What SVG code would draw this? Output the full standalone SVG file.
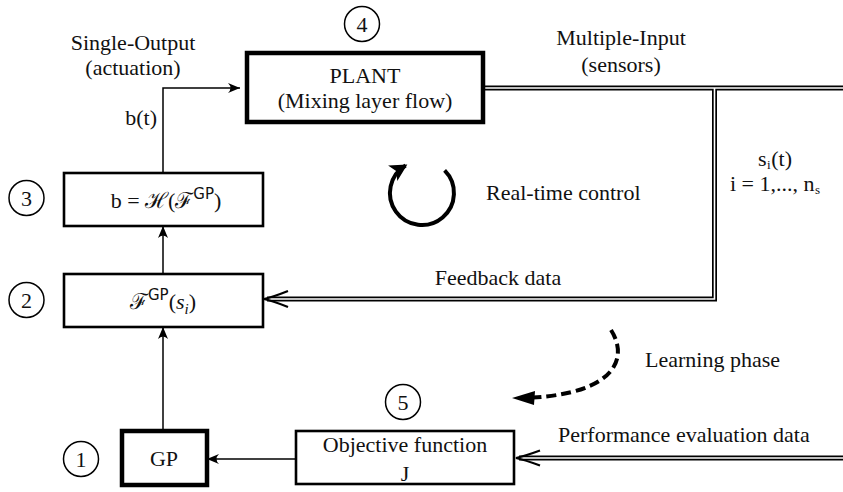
<svg xmlns="http://www.w3.org/2000/svg" width="843" height="492" viewBox="0 0 843 492">
<style>
text{font-family:"Liberation Serif","DejaVu Serif",serif;font-size:22px;fill:#111}
.m{text-anchor:middle}
.box{fill:#fff;stroke:#000;stroke-width:2.6}
.thick{fill:#fff;stroke:#000;stroke-width:4.5}
.num{fill:none;stroke:#000;stroke-width:1.5}
.ln{fill:none;stroke:#000;stroke-width:1.5}
.dout{fill:none;stroke:#000;stroke-width:5}
.din{fill:none;stroke:#fff;stroke-width:1.6}
.dhead{fill:none;stroke:#000;stroke-width:2.2;stroke-linejoin:miter}
</style>
<defs>
<marker id="ah" markerUnits="userSpaceOnUse" markerWidth="16" markerHeight="12" refX="0" refY="0" viewBox="-13 -6 14 12" orient="auto">
<path d="M0,0 L-12,-5 Q-7,0 -12,5 Z" fill="#000"/>
</marker>
<marker id="ahc" markerUnits="userSpaceOnUse" markerWidth="22" markerHeight="22" refX="0" refY="0" viewBox="-17 -11 20 22" orient="auto">
<path d="M2,0 L-15,-9 L-11,0 L-15,9 Z" fill="#000"/>
</marker>
</defs>

<g id="connectors">
<path class="ln" d="M163,431 V327" marker-end="url(#ah)"/>
<path class="ln" d="M163,274 V226" marker-end="url(#ah)"/>
<path class="ln" d="M163,173 V88 H240" marker-end="url(#ah)"/>
<path class="ln" d="M296,459 H207" marker-end="url(#ah)"/>
<path class="dout" d="M483,88 H843"/>
<path class="dout" d="M714.5,88 V299 H267"/>
<path class="dout" d="M843,458 H519"/>
<path class="din" d="M483,88 H843"/>
<path class="din" d="M714.5,88 V299 H265"/>
<path class="din" d="M843,458 H517"/>
<path class="dhead" d="M288,291 Q273,297 264,299 Q273,301 288,307"/>
<path class="dhead" d="M540,450.5 Q525,456 516,458 Q525,460 540,465.5"/>
<path d="M444.6,170.4 A32,32 0 1 1 405.6,165.5" fill="none" stroke="#000" stroke-width="4" marker-end="url(#ahc)"/>
<path d="M611,330 C630,360 612,393 533,397.5" fill="none" stroke="#000" stroke-width="4" stroke-dasharray="10,5"/>
<path d="M512,398 L535,391 L534,405 Z" fill="#000"/>
</g>

<g id="plant">
<rect class="thick" x="247" y="53" width="236" height="69"/>
<text class="m" x="365" y="83">PLANT</text>
<text class="m" x="365" y="108">(Mixing layer flow)</text>
</g>
<g id="n4"><circle class="num" cx="362" cy="24" r="17.5"/><text class="m" x="362" y="32">4</text></g>

<g id="box3">
<rect class="box" x="64" y="173" width="199" height="53"/>
<text class="m" x="166" y="208">b = ℋ(ℱ<tspan dy="-9" font-size="15" font-family="DejaVu Sans, sans-serif">GP</tspan><tspan dy="9">)</tspan></text>
</g>
<g id="n3"><circle class="num" cx="26.5" cy="198" r="17.5"/><text class="m" x="26.5" y="206">3</text></g>

<g id="box2">
<rect class="box" x="64" y="274" width="199" height="53"/>
<text class="m" x="163" y="309">ℱ<tspan dy="-9" font-size="15" font-family="DejaVu Sans, sans-serif">GP</tspan><tspan dy="9">(</tspan><tspan font-style="italic">s</tspan><tspan dy="5" font-size="15" font-style="italic">i</tspan><tspan dy="-5">)</tspan></text>
</g>
<g id="n2"><circle class="num" cx="26.5" cy="300" r="17.5"/><text class="m" x="26.5" y="308">2</text></g>

<g id="gp">
<rect class="thick" x="122" y="431" width="85" height="54"/>
<text class="m" x="164" y="466">GP</text>
</g>
<g id="n1"><circle class="num" cx="81" cy="459" r="17.5"/><text class="m" x="81" y="467">1</text></g>

<g id="objective">
<rect class="box" x="296" y="431" width="218" height="53" stroke-width="3"/>
<text class="m" x="405" y="452">Objective function</text>
<text class="m" x="405" y="481">J</text>
</g>
<g id="n5"><circle class="num" cx="403" cy="402" r="17.5"/><text class="m" x="403" y="410">5</text></g>

<g id="labels">
<text class="m" x="133" y="50">Single-Output</text>
<text class="m" x="133" y="75">(actuation)</text>
<text x="157" y="125" text-anchor="end">b(t)</text>
<text class="m" x="621" y="45">Multiple-Input</text>
<text class="m" x="621" y="72">(sensors)</text>
<text x="486" y="200">Real-time control</text>
<text class="m" x="775" y="166">s<tspan dx="0.5" dy="3" font-size="13">i</tspan><tspan dx="0.5" dy="-3">(t)</tspan></text>
<text class="m" x="775" y="191">i = 1,..., n<tspan dx="0.5" dy="3" font-size="13">s</tspan></text>
<text class="m" x="498" y="285">Feedback data</text>
<text x="645" y="367">Learning phase</text>
<text x="558" y="442">Performance evaluation data</text>
</g>
</svg>
